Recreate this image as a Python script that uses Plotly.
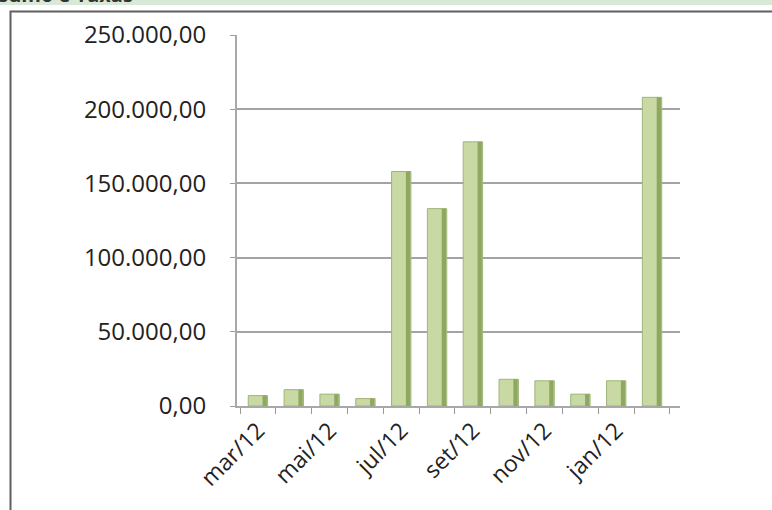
import plotly.graph_objects as go

categories = ["mar/12", "abr/12", "mai/12", "jun/12", "jul/12", "ago/12",
              "set/12", "out/12", "nov/12", "dez/12", "jan/12", "fev/12"]
tick_labels = ["mar/12", "", "mai/12", "", "jul/12", "",
               "set/12", "", "nov/12", "", "jan/12", ""]
values = [7000, 11000, 8000, 5000, 158000, 133000,
          178000, 18000, 17000, 8000, 17000, 208000]
y_ticks = [0, 50000, 100000, 150000, 200000, 250000]

W, H = 772, 510
L, R, T, B = 237, 92, 35, 104
PW, PH = W - L - R, H - T - B

def px_x(p):
    return (p - L) / PW

def px_y(p):
    return (H - B - p) / PH

fig = go.Figure()
fig.add_trace(go.Bar(x=categories, y=values, width=0.54,
                     marker=dict(color="#c8d9a4", line=dict(color="#9fb479", width=1)),
                     hoverinfo="x+y"))
fig.add_trace(go.Bar(x=categories, y=values, width=0.12, offset=0.13,
                     marker=dict(color="#8ea85f", line=dict(width=0)),
                     hoverinfo="skip"))

shapes = [
    dict(type="rect", xref="paper", yref="paper",
         x0=px_x(-5), x1=px_x(W + 5), y0=px_y(5), y1=px_y(-5),
         fillcolor="#d9e9d7", line=dict(width=0), layer="below"),
    dict(type="rect", xref="paper", yref="paper",
         x0=px_x(10.5), x1=px_x(W + 10), y0=px_y(H + 10), y1=px_y(11.5),
         fillcolor="rgba(0,0,0,0)", line=dict(color="#5f5f5f", width=2), layer="above"),
]

fig.update_layout(
    width=W, height=H,
    margin=dict(l=L, r=R, t=T, b=B, pad=0),
    paper_bgcolor="white", plot_bgcolor="white",
    barmode="overlay", showlegend=False,
    separators=",.",
    font=dict(family="Open Sans", color="#222222"),
    shapes=shapes,
    annotations=[dict(text="<b>Consumo e Taxas</b>", xref="paper", yref="paper",
                      x=px_x(135), y=px_y(10), xanchor="right", yanchor="bottom",
                      showarrow=False, font=dict(size=20, color="#333333"))],
    xaxis=dict(type="category", range=[-0.584, 11.78],
               tickmode="array", tickvals=categories, ticktext=tick_labels,
               tickangle=-45, tickfont=dict(size=23),
               tickson="boundaries", ticks="outside", ticklen=6, tickcolor="#9a9a9a",
               showline=True, linecolor="#a8a8a8", linewidth=2,
               showgrid=False, zeroline=False),
    yaxis=dict(range=[0, 250000], tickvals=y_ticks, tickformat=",.2f",
               tickfont=dict(size=24), ticks="outside", ticklen=5, tickcolor="#9a9a9a",
               ticklabelstandoff=19,
               showline=True, linecolor="#a8a8a8", linewidth=2,
               showgrid=True, gridcolor="#a3a3a3", gridwidth=2, zeroline=False),
)

fig.write_html("out.html", config={"displayModeBar": False},
               post_script="document.body.style.margin='0';document.body.style.overflow='hidden';")
